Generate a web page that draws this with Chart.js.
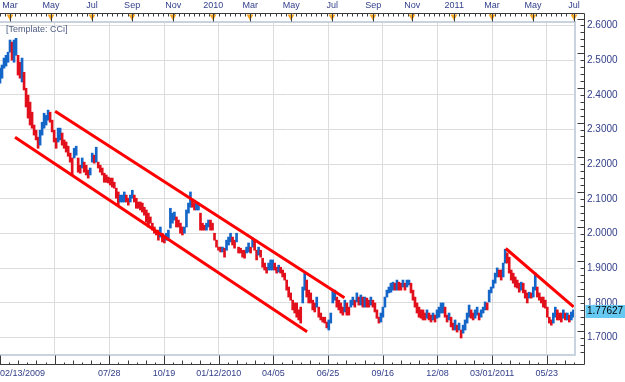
<!DOCTYPE html>
<html>
<head>
<meta charset="utf-8">
<script src="https://cdn.jsdelivr.net/npm/chart.js@4.4.1/dist/chart.umd.min.js"></script>
<style>
  html, body { margin: 0; padding: 0; background: #fff; }
  #wrap { width: 625px; height: 382px; }
</style>
</head>
<body>
<div id="wrap"><canvas id="chart" width="625" height="382"></canvas></div>
<script>
// x axis counts trading bars from 02/13/2009; a date grid line every 60 bars.
// The price trace is sampled every SAMPLE_STEP bars (high / low of each sample).
const SAMPLE_STEP = 2.2;

const HIGHS = [
  2.477, 2.486, 2.506, 2.514, 2.523, 2.558, 2.552, 2.558, 2.563, 2.514,
  2.494, 2.506, 2.465, 2.419, 2.399, 2.379, 2.350, 2.313, 2.298, 2.278,
  2.298, 2.321, 2.347, 2.341, 2.356, 2.350, 2.327, 2.298, 2.275, 2.304,
  2.304, 2.290, 2.270, 2.264, 2.252, 2.232, 2.218, 2.246, 2.252, 2.218,
  2.197, 2.218, 2.206, 2.197, 2.183, 2.189, 2.232, 2.226, 2.249, 2.206,
  2.197, 2.189, 2.174, 2.169, 2.163, 2.160, 2.160, 2.148, 2.131, 2.120,
  2.111, 2.111, 2.120, 2.111, 2.102, 2.111, 2.125, 2.111, 2.102, 2.091,
  2.091, 2.088, 2.076, 2.068, 2.059, 2.048, 2.030, 2.019, 2.010, 2.010,
  2.019, 2.001, 1.996, 2.001, 2.010, 2.073, 2.059, 2.062, 2.048, 2.039,
  2.030, 2.019, 2.019, 2.068, 2.088, 2.120, 2.097, 2.088, 2.088, 2.088,
  2.059, 2.030, 2.024, 2.030, 2.039, 2.039, 2.030, 2.001, 1.981, 1.961,
  1.961, 1.961, 1.958, 1.981, 1.990, 2.001, 1.990, 1.981, 2.001, 1.961,
  1.958, 1.952, 1.952, 1.961, 1.973, 1.961, 1.987, 1.981, 1.952, 1.961,
  1.952, 1.929, 1.915, 1.903, 1.915, 1.924, 1.924, 1.915, 1.903, 1.909,
  1.903, 1.895, 1.886, 1.866, 1.846, 1.829, 1.808, 1.800, 1.800, 1.780,
  1.788, 1.846, 1.886, 1.866, 1.837, 1.829, 1.808, 1.800, 1.817, 1.788,
  1.771, 1.759, 1.759, 1.745, 1.751, 1.771, 1.837, 1.837, 1.817, 1.808,
  1.800, 1.788, 1.808, 1.800, 1.788, 1.808, 1.817, 1.808, 1.829, 1.817,
  1.823, 1.817, 1.817, 1.814, 1.808, 1.817, 1.808, 1.800, 1.780, 1.759,
  1.771, 1.788, 1.817, 1.837, 1.846, 1.857, 1.860, 1.857, 1.866, 1.860,
  1.857, 1.866, 1.857, 1.866, 1.866, 1.857, 1.837, 1.817, 1.800, 1.788,
  1.780, 1.780, 1.771, 1.780, 1.771, 1.765, 1.771, 1.765, 1.780, 1.788,
  1.800, 1.800, 1.788, 1.765, 1.771, 1.759, 1.742, 1.751, 1.736, 1.742,
  1.722, 1.736, 1.751, 1.771, 1.794, 1.780, 1.771, 1.780, 1.788, 1.771,
  1.780, 1.788, 1.803, 1.800, 1.837, 1.846, 1.866, 1.886, 1.901, 1.895,
  1.895, 1.915, 1.955, 1.944, 1.932, 1.895, 1.886, 1.875, 1.866, 1.857,
  1.860, 1.857, 1.837, 1.829, 1.831, 1.829, 1.846, 1.886, 1.846, 1.829,
  1.817, 1.817, 1.808, 1.788, 1.759, 1.751, 1.771, 1.788, 1.780, 1.771,
  1.771, 1.780, 1.771, 1.771, 1.765, 1.774, 1.780,
];

const LOWS = [
  2.434, 2.448, 2.477, 2.483, 2.494, 2.523, 2.500, 2.494, 2.514, 2.457,
  2.448, 2.437, 2.414, 2.365, 2.333, 2.313, 2.304, 2.284, 2.270, 2.246,
  2.255, 2.284, 2.304, 2.313, 2.327, 2.321, 2.293, 2.264, 2.246, 2.264,
  2.270, 2.255, 2.246, 2.235, 2.223, 2.206, 2.169, 2.218, 2.226, 2.177,
  2.174, 2.189, 2.177, 2.169, 2.160, 2.169, 2.206, 2.203, 2.206, 2.189,
  2.177, 2.169, 2.148, 2.148, 2.146, 2.140, 2.134, 2.131, 2.102, 2.082,
  2.091, 2.091, 2.091, 2.091, 2.082, 2.091, 2.102, 2.091, 2.073, 2.073,
  2.068, 2.062, 2.053, 2.033, 2.019, 2.030, 2.010, 2.001, 1.996, 1.981,
  1.990, 1.976, 1.973, 1.981, 1.981, 2.016, 2.030, 2.039, 2.019, 2.019,
  2.001, 1.996, 2.001, 2.019, 2.059, 2.076, 2.076, 2.068, 2.068, 2.068,
  2.010, 2.010, 2.010, 2.010, 2.019, 2.010, 2.010, 1.981, 1.961, 1.952,
  1.947, 1.947, 1.932, 1.952, 1.967, 1.976, 1.967, 1.958, 1.976, 1.944,
  1.944, 1.932, 1.929, 1.944, 1.947, 1.944, 1.961, 1.952, 1.924, 1.938,
  1.932, 1.903, 1.895, 1.886, 1.895, 1.895, 1.895, 1.895, 1.886, 1.889,
  1.886, 1.875, 1.866, 1.837, 1.817, 1.808, 1.780, 1.771, 1.759, 1.751,
  1.742, 1.800, 1.837, 1.817, 1.800, 1.800, 1.780, 1.774, 1.788, 1.759,
  1.751, 1.745, 1.742, 1.728, 1.722, 1.742, 1.800, 1.808, 1.788, 1.780,
  1.771, 1.765, 1.774, 1.765, 1.765, 1.788, 1.794, 1.788, 1.803, 1.794,
  1.794, 1.788, 1.788, 1.788, 1.788, 1.794, 1.788, 1.774, 1.756, 1.742,
  1.745, 1.759, 1.788, 1.817, 1.829, 1.831, 1.837, 1.837, 1.837, 1.837,
  1.837, 1.846, 1.837, 1.846, 1.852, 1.829, 1.808, 1.788, 1.771, 1.759,
  1.756, 1.751, 1.751, 1.756, 1.751, 1.745, 1.751, 1.745, 1.756, 1.759,
  1.771, 1.771, 1.759, 1.745, 1.751, 1.731, 1.722, 1.722, 1.716, 1.722,
  1.699, 1.713, 1.722, 1.742, 1.759, 1.756, 1.751, 1.756, 1.765, 1.751,
  1.759, 1.771, 1.780, 1.780, 1.803, 1.829, 1.843, 1.857, 1.875, 1.875,
  1.866, 1.875, 1.915, 1.915, 1.886, 1.866, 1.857, 1.846, 1.843, 1.831,
  1.837, 1.829, 1.814, 1.800, 1.814, 1.814, 1.817, 1.837, 1.817, 1.808,
  1.800, 1.788, 1.785, 1.759, 1.742, 1.736, 1.742, 1.759, 1.751, 1.751,
  1.745, 1.756, 1.751, 1.751, 1.745, 1.751, 1.759,
];

const LAST_PRICE = 1.77627;

// hand-drawn trend lines: [bar, price] at both ends
const CHANNEL_LOW  = [[16.5, 2.278], [337, 1.717]];
const CHANNEL_HIGH = [[60.5, 2.353], [378, 1.815]];
const TREND_2011   = [[555, 1.957], [629.5, 1.789]];

const DATE_TICKS  = [0, 60, 120, 180, 240, 300, 360, 420, 480, 540, 600, 631];
const DATE_LABELS = ['02/13/2009', '', '07/28', '10/19', '01/12/2010', '04/05', '06/25', '09/16', '12/08', '03/01/2011', '05/23', ''];
const MONTH_TICKS  = [11, 56, 101, 145, 190, 234, 274.5, 319.5, 364.5, 409.5, 452.3, 498.5, 540, 585, 630];
const MONTH_LABELS = ['Mar', 'May', 'Jul', 'Sep', 'Nov', '2010', 'Mar', 'May', 'Jul', 'Sep', 'Nov', '2011', 'Mar', 'May', 'Jul'];
const PRICE_TICKS = [1.7, 1.8, 1.9, 2.0, 2.1, 2.2, 2.3, 2.4, 2.5, 2.6];

const X_MAX = 631;
const FONT = "'Liberation Sans', Arial, sans-serif";
const LABEL = '#34408a';
const GRID = '#dcdcdc';
const UP = '#1466c8';
const DOWN = '#e2101c';

const bars = HIGHS.map((h, i) => ({ x: i * SAMPLE_STEP, y: [LOWS[i], h] }));
const mids = HIGHS.map((h, i) => (h + LOWS[i]) / 2);
const barColors = mids.map((m, i) => (i > 0 && m < mids[i - 1]) ? DOWN : UP);
const toPts = arr => arr.map(([x, y]) => ({ x, y }));

const trendLine = pts => ({
  type: 'line', data: toPts(pts), borderColor: '#ff0000', borderWidth: 3,
  pointRadius: 0, fill: false, order: 1,
});

// no side padding from the x axes: the plot starts at the left edge of the canvas
const noSidePadding = s => { s.paddingLeft = 0; s.paddingRight = 0; };

// frame, ruler ticks, month markers, price tag and template caption
const decorations = {
  id: 'decorations',
  afterDraw(chart) {
    const { ctx } = chart;
    const xs = chart.scales.x, ys = chart.scales.y;
    const { left, top, right, bottom } = chart.chartArea;
    const axR = right + 9.5, axT = top - 8.5, axB = bottom + 9.5;
    ctx.save();

    // light inner frame
    ctx.strokeStyle = '#c9d3de';
    ctx.lineWidth = 2;
    ctx.beginPath();
    ctx.moveTo(left, top); ctx.lineTo(right, top); ctx.lineTo(right, bottom); ctx.lineTo(left, bottom);
    ctx.stroke();

    // dark outer axes
    ctx.strokeStyle = '#3a3a3a';
    ctx.lineWidth = 1;
    ctx.beginPath();
    ctx.moveTo(left, axT); ctx.lineTo(axR, axT); ctx.lineTo(axR, axB); ctx.lineTo(left, axB);
    ctx.stroke();

    ctx.beginPath();
    // top ruler
    for (let v = 0; v <= X_MAX; v += 5.6) {
      const px = Math.round(xs.getPixelForValue(v)) + 0.5;
      ctx.moveTo(px, axT); ctx.lineTo(px, axT + 3);
    }
    // bottom ruler
    for (let v = 0; v <= X_MAX; v += 10) {
      const px = Math.round(xs.getPixelForValue(v)) + 0.5;
      const len = v % 60 === 0 ? 9 : (v % 20 === 0 ? 4 : 2);
      ctx.moveTo(px, axB); ctx.lineTo(px, axB - len);
    }
    // right ruler
    for (let i = 0; i <= 48; i++) {
      const v = 1.66 + i * 0.02;
      const py = Math.round(ys.getPixelForValue(v)) + 0.5;
      const len = (i + 2) % 5 === 0 ? 7 : 4;
      ctx.moveTo(axR, py); ctx.lineTo(axR - len, py);
    }
    ctx.stroke();

    // month markers
    MONTH_TICKS.forEach(v => {
      const px = Math.round(xs.getPixelForValue(v));
      ctx.fillStyle = '#f5a623';
      ctx.beginPath();
      ctx.moveTo(px - 3.5, axT + 1); ctx.lineTo(px + 3.5, axT + 1); ctx.lineTo(px, axT + 7);
      ctx.closePath();
      ctx.fill();
      ctx.strokeStyle = '#3a3a3a';
      ctx.beginPath();
      ctx.moveTo(px + 0.5, axT); ctx.lineTo(px + 0.5, axT + 8);
      ctx.stroke();
    });

    // last price tag
    const py = ys.getPixelForValue(LAST_PRICE);
    ctx.fillStyle = '#66c9f2';
    ctx.fillRect(axR + 1, Math.round(py) - 6, 40, 13);
    ctx.fillStyle = '#000';
    ctx.font = '10px ' + FONT;
    ctx.textBaseline = 'middle';
    ctx.fillText(LAST_PRICE.toFixed(5), axR + 2.5, py + 0.5);

    // template caption
    ctx.fillStyle = '#4d5c80';
    ctx.font = '9px ' + FONT;
    ctx.textBaseline = 'alphabetic';
    ctx.fillText('[Template: CCi]', left + 6, top + 10);
    ctx.restore();
  },
};

const hideEdge = c => (c.tick && (c.tick.value === 0 || c.tick.value === X_MAX)) ? 'rgba(0,0,0,0)' : GRID;

new Chart(document.getElementById('chart'), {
  type: 'bar',
  data: {
    datasets: [
      trendLine(CHANNEL_LOW),
      trendLine(CHANNEL_HIGH),
      trendLine(TREND_2011),
      { type: 'bar', data: bars, backgroundColor: barColors, barThickness: 2, grouped: false, order: 2 },
    ],
  },
  options: {
    responsive: false,
    animation: false,
    devicePixelRatio: 1,
    layout: { padding: 0, autoPadding: false },
    plugins: { legend: { display: false }, tooltip: { enabled: false } },
    scales: {
      x: {
        type: 'linear', position: 'bottom', min: 0, max: X_MAX, offset: false,
        grid: { color: hideEdge, offset: false, drawTicks: false },
        border: { display: false },
        afterBuildTicks: s => { s.ticks = DATE_TICKS.map(value => ({ value })); },
        afterFit: s => { s.height = 27; noSidePadding(s); },
        ticks: { autoSkip: false, maxRotation: 0, align: 'inner', padding: 13, color: LABEL, font: { family: FONT, size: 9 }, callback: (v, i) => DATE_LABELS[i] },
      },
      x2: {
        type: 'linear', position: 'top', min: 0, max: X_MAX, offset: false,
        grid: { display: false, drawTicks: false },
        border: { display: false },
        afterBuildTicks: s => { s.ticks = MONTH_TICKS.map(value => ({ value })); },
        afterFit: s => { s.height = 22; noSidePadding(s); },
        ticks: { autoSkip: false, maxRotation: 0, padding: 11, color: LABEL, font: { family: FONT, size: 9 }, callback: (v, i) => MONTH_LABELS[i] },
      },
      y: {
        type: 'linear', position: 'right', min: 1.65, max: 2.61,
        grid: { color: GRID, drawTicks: false },
        border: { display: false },
        afterBuildTicks: s => { s.ticks = PRICE_TICKS.map(value => ({ value })); },
        afterFit: s => { s.width = 50; s.paddingTop = 0; s.paddingBottom = 0; },
        ticks: { padding: 12, color: LABEL, font: { family: FONT, size: 10 }, callback: v => v.toFixed(4) },
      },
    },
  },
  plugins: [decorations],
});
</script>
</body>
</html>
